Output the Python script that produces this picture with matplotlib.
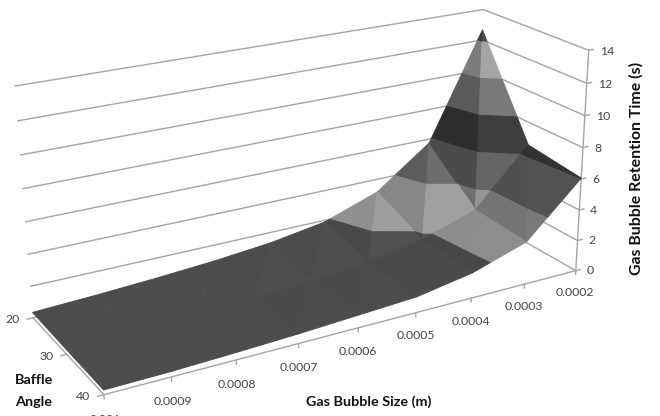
import numpy as np
import matplotlib
matplotlib.use("Agg")
import matplotlib.pyplot as plt
from matplotlib.ticker import NullLocator
from mpl_toolkits.mplot3d import proj3d
from mpl_toolkits.mplot3d.art3d import Poly3DCollection

plt.rcParams['font.family'] = ['Lato', 'DejaVu Sans']

# ---- data ----
bubble_size = [0.0002, 0.0003, 0.0004, 0.0005, 0.0006, 0.0007, 0.0008, 0.0009, 0.001]
baffle_angle = [20, 30, 40]
time_angle20 = [12.66, 5.74, 3.14, 1.88, 1.30, 0.95, 0.70, 0.50, 0.35]
time_angle30 = [6.52, 2.96, 1.78, 1.18, 0.85, 0.62, 0.46, 0.36, 0.30]
time_angle40 = [6.06, 2.76, 1.62, 1.00, 0.80, 0.60, 0.45, 0.33, 0.28]
z_ticks = [0, 2, 4, 6, 8, 10, 12, 14]
size_labels = ['0.0002', '0.0003', '0.0004', '0.0005', '0.0006', '0.0007', '0.0008', '0.0009', '0.001']
band_gray = [0.27, 0.53, 0.36, 0.22, 0.43, 0.59, 0.27]   # one grey per 2-unit band

S = np.array(bubble_size)
A = np.array(baffle_angle, float)
Z = np.array([time_angle20, time_angle30, time_angle40])

fig = plt.figure(figsize=(6.6, 4.16), dpi=100, facecolor='white')
ax = fig.add_axes([0.00635, -0.18073, 0.90732, 1.43950], projection='3d')
ax.set_xlim(0.0002, 0.001, view_margin=0)
ax.set_ylim(20, 40, view_margin=0)
ax.set_zlim(0, 14, view_margin=0)
ax.view_init(elev=21.264, azim=60.590, roll=0.387)
ax.set_proj_type('persp', focal_length=0.4945)
BOX = (1, 0.3397, 0.4511)
ax.set_box_aspect(BOX)
for axis in (ax.xaxis, ax.yaxis, ax.zaxis):
    axis.set_major_locator(NullLocator())
    axis.set_minor_locator(NullLocator())
ax.set_axis_off()
ax.computed_zorder = False
ax.apply_aspect()

GRID = '#a4a4a4'
TXT = '#454545'
s0, s1, a0, a1 = S[0], S[-1], A[0], A[-1]

# back-wall gridlines
for z in z_ticks:
    ax.plot([s0, s0, s1], [a1, a0, a0], [z, z, z], color=GRID, lw=1.0, zorder=1)

# axes lines and tick marks
ax.plot([s0, s0], [a1, a1], [0, 14], color=GRID, lw=1.0, zorder=2)
ax.plot([s0, s1], [a1, a1], [0, 0], color=GRID, lw=1.0, zorder=2)
ax.plot([s1, s1], [a1, a0], [0, 0], color=GRID, lw=1.0, zorder=2)
ds = S[1] - S[0]
for z in z_ticks:
    ax.plot([s0, s0 - 0.09 * ds], [a1, a1], [z, z], color=GRID, lw=1.0, zorder=2)
for s in S:
    ax.plot([s, s], [a1, a1], [0, -0.25], color=GRID, lw=1.0, zorder=2)
for a in A:
    ax.plot([s1, s1 + 0.09 * ds], [a, a], [0, 0], color=GRID, lw=1.0, zorder=2)


# surface: every cell split along one diagonal, every triangle cut at the band levels
def clip(poly, lo, hi):
    def cut(pts, keep, level):
        out = []
        for i in range(len(pts)):
            p, q = pts[i], pts[(i + 1) % len(pts)]
            kp, kq = keep(p[2]), keep(q[2])
            if kp:
                out.append(p)
            if kp != kq:
                t = (level - p[2]) / (q[2] - p[2])
                out.append(p + t * (q - p))
        return out
    pts = [np.array(v) for v in poly]
    pts = cut(pts, lambda z: z >= lo, lo)
    if pts:
        pts = cut(pts, lambda z: z <= hi, hi)
    return pts


def shade(tri):
    t = np.array(tri)
    u = (t[:, 0] - s0) / (s1 - s0) * BOX[0]
    v = (t[:, 1] - a0) / (a1 - a0) * BOX[1]
    w = t[:, 2] / 14 * BOX[2]
    P = np.c_[u, v, w]
    n = np.cross(P[1] - P[0], P[2] - P[0])
    n = n / np.linalg.norm(n)
    if n[2] < 0:
        n = -n
    L = np.array([-0.4, 0.7, 0.6])
    L = L / np.linalg.norm(L)
    return 0.75 + 0.6 * n.dot(L)


polys, cols = [], []
for j in range(len(A) - 1):
    for i in range(len(S) - 1):
        p00 = (S[i], A[j], Z[j, i])
        p10 = (S[i + 1], A[j], Z[j, i + 1])
        p01 = (S[i], A[j + 1], Z[j + 1, i])
        p11 = (S[i + 1], A[j + 1], Z[j + 1, i + 1])
        for tri in ([p00, p10, p11], [p00, p01, p11]):
            f = shade(tri)
            for b, g in enumerate(band_gray):
                pts = clip(tri, 2 * b, 2 * b + 2)
                if len(pts) >= 3:
                    polys.append(np.array(pts))
                    c = min(1, g * f)
                    cols.append((c, c, c))

surf = Poly3DCollection(polys, facecolors=cols, edgecolors=cols, linewidths=0.7, zorder=5, zsort='average')
ax.add_collection3d(surf)

# tick labels: 3D position sent through the axes' own projection, drawn as plain text
M = ax.get_proj()


def label3d(x, y, z, text, **kw):
    px, py, _ = proj3d.proj_transform(x, y, z, M)
    ax.text2D(px, py, text, color=TXT, fontsize=8.8, zorder=6, va='center', clip_on=False, **kw)


for z in z_ticks:
    label3d(s0 - 0.22 * ds, a1, z - 0.2, str(z), ha='left')
for s, lab in zip(S, size_labels):
    label3d(s, a1, -1.5, lab, ha='center')
for a in A:
    label3d(s1 + 0.2 * ds, a, 0.1, str(int(a)), ha='right')

# axis titles
TC = '#111111'
fig.text(15 / 660, 1 - 380 / 416, 'Baffle', ha='left', va='center', fontsize=10.4, fontweight='bold', color=TC)
fig.text(15 / 660, 1 - 402 / 416, 'Angle', ha='left', va='center', fontsize=10.4, fontweight='bold', color=TC)
fig.text(369 / 660, 1 - 402 / 416, 'Gas Bubble Size (m)', ha='center', va='center', fontsize=10.4, fontweight='bold', color=TC)
fig.text(636 / 660, 1 - 168 / 416, 'Gas Bubble Retention Time (s)', rotation=90, ha='center', va='center', fontsize=11.4, fontweight='bold', color=TC)

fig.savefig("out.png", dpi=100)
